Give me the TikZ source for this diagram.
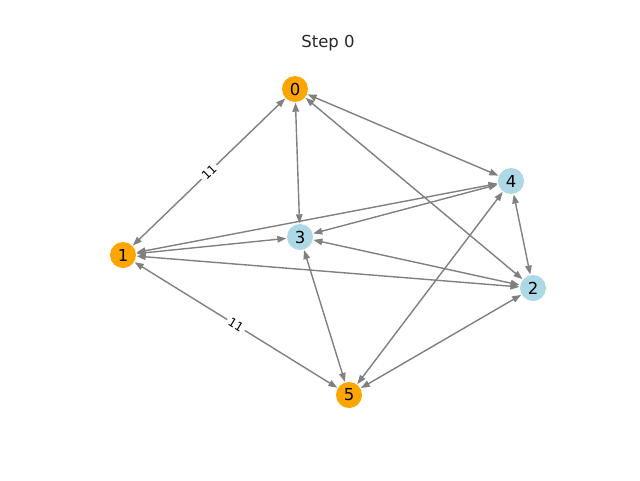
\documentclass[tikz,border=0pt]{standalone}
\usepackage{fontspec}
\setmainfont{DejaVu Sans}
\usetikzlibrary{arrows.meta}
\begin{document}
\begin{tikzpicture}[x=1pt,y=-1pt,
  vertex/.style={circle,minimum size=26pt,inner sep=0pt,draw=none,
    font=\fontsize{16.5}{18}\selectfont},
  hot/.style={vertex,fill={rgb,255:red,255;green,165;blue,0}},
  cold/.style={vertex,fill={rgb,255:red,173;green,216;blue,230}},
  link/.style={draw={rgb,255:red,128;green,128;blue,128},line width=1.4pt,
    {Triangle[length=9pt,width=6.5pt]}-{Triangle[length=9pt,width=6.5pt]},
    shorten <=0.5pt,shorten >=0.5pt},
  weight/.style={fill=white,inner sep=2.5pt,sloped,
    font=\fontsize{12}{13}\selectfont}]
  \useasboundingbox[fill=white] (0,0) rectangle (640,480);
  \node[font=\fontsize{16.5}{18}\selectfont,text={rgb,255:red,40;green,40;blue,40}] (title) at (328,43) {Step 0};

  \node[hot]  (n0) at (295,89)  {0};
  \node[hot]  (n1) at (123,255) {1};
  \node[cold] (n2) at (533,288) {2};
  \node[cold] (n3) at (300,237) {3};
  \node[cold] (n4) at (511,181) {4};
  \node[hot]  (n5) at (349,395) {5};

  \draw[link] (n0) -- node[weight] {11} (n1);
  \draw[link] (n0) -- (n3);
  \draw[link] (n0) -- (n4);
  \draw[link] (n0) -- (n2);
  \draw[link] (n1) -- (n4);
  \draw[link] (n1) -- (n3);
  \draw[link] (n1) -- (n2);
  \draw[link] (n1) -- node[weight] {11} (n5);
  \draw[link] (n3) -- (n4);
  \draw[link] (n3) -- (n2);
  \draw[link] (n3) -- (n5);
  \draw[link] (n4) -- (n2);
  \draw[link] (n4) -- (n5);
  \draw[link] (n2) -- (n5);
\end{tikzpicture}
\end{document}
